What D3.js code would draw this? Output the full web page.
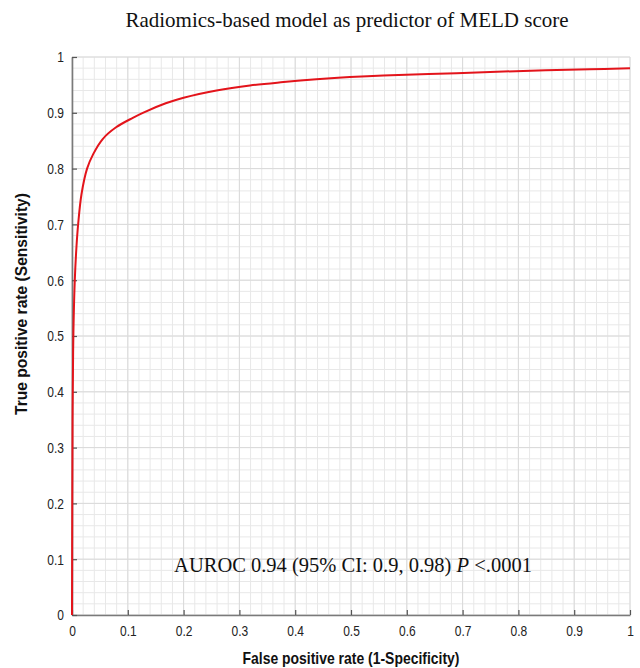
<!DOCTYPE html>
<html>
<head>
<meta charset="utf-8">
<script src="https://cdn.jsdelivr.net/npm/d3@7"></script>
<style>
  body { margin: 0; background: #fff; }
  .tick text { font-family: "Liberation Sans", Arial, sans-serif; font-size: 15px; fill: #222; }
  .axlabel { font-family: "Liberation Sans", Arial, sans-serif; font-weight: bold; font-size: 17px; fill: #111; }
</style>
</head>
<body>
<div id="chart"></div>
<script>
// ROC curve points: [false positive rate, true positive rate]
var fpr = [0, 0.0005, 0.001, 0.002, 0.003, 0.005, 0.008, 0.011, 0.017, 0.027, 0.038, 0.055, 0.079, 0.109, 0.127, 0.168, 0.2, 0.259, 0.319, 0.379, 0.438, 0.498, 0.558, 0.689, 0.809, 0.928, 1];
var tpr = [0, 0.2, 0.35, 0.47, 0.53, 0.6, 0.66, 0.7, 0.754, 0.8, 0.826, 0.853, 0.874, 0.891, 0.9, 0.917, 0.927, 0.94, 0.949, 0.955, 0.96, 0.964, 0.967, 0.971, 0.975, 0.978, 0.98];
var majorTicks = [0, 0.1, 0.2, 0.3, 0.4, 0.5, 0.6, 0.7, 0.8, 0.9, 1];
var minorTicks = d3.range(0, 51).map(function(i){ return i / 50; });

// squeeze a text horizontally to look like a narrow face
function narrow(sel, k){
	sel.each(function(){
		var len = this.getComputedTextLength();
		d3.select(this).attr("textLength", len * k).attr("lengthAdjust", "spacingAndGlyphs");
	});
}

function init(){
	var w = 640;
	var h = 668;
	var left = 72, right = 630, top = 57, bottom = 615;

	var xScale = d3.scaleLinear().domain([0, 1]).range([left, right]);
	var yScale = d3.scaleLinear().domain([0, 1]).range([bottom, top]);

	var svg = d3.select("#chart")
				.append("svg")
				.attr("width", w)
				.attr("height", h);

	// grid, minor first then major
	var grid = svg.append("g");
	grid.selectAll("line.vminor").data(minorTicks).enter().append("line")
		.attr("x1", function(d){ return xScale(d); })
		.attr("x2", function(d){ return xScale(d); })
		.attr("y1", top).attr("y2", bottom)
		.attr("stroke", "#e8e8e8").attr("stroke-width", 1);
	grid.selectAll("line.hminor").data(minorTicks).enter().append("line")
		.attr("y1", function(d){ return yScale(d); })
		.attr("y2", function(d){ return yScale(d); })
		.attr("x1", left).attr("x2", right)
		.attr("stroke", "#e8e8e8").attr("stroke-width", 1);
	grid.selectAll("line.vmajor").data(majorTicks).enter().append("line")
		.attr("x1", function(d){ return xScale(d); })
		.attr("x2", function(d){ return xScale(d); })
		.attr("y1", top).attr("y2", bottom)
		.attr("stroke", "#dadada").attr("stroke-width", 1);
	grid.selectAll("line.hmajor").data(majorTicks).enter().append("line")
		.attr("y1", function(d){ return yScale(d); })
		.attr("y2", function(d){ return yScale(d); })
		.attr("x1", left).attr("x2", right)
		.attr("stroke", "#dadada").attr("stroke-width", 1);

	// axes with ticks pointing inward
	var xAxis = d3.axisBottom(xScale)
				.tickValues(majorTicks)
				.tickFormat(d3.format("~g"))
				.tickSizeInner(-5).tickSizeOuter(0).tickPadding(10);
	var yAxis = d3.axisLeft(yScale)
				.tickValues(majorTicks)
				.tickFormat(d3.format("~g"))
				.tickSizeInner(-5).tickSizeOuter(0).tickPadding(8);

	var gx = svg.append("g").attr("transform", "translate(0," + bottom + ")").call(xAxis);
	var gy = svg.append("g").attr("transform", "translate(" + left + ",0)").call(yAxis);
	[gx, gy].forEach(function(g){
		g.attr("font-family", null).attr("font-size", null);
		g.select(".domain").attr("stroke", "#7a7a7a").attr("stroke-width", 1.6);
		g.selectAll(".tick line").attr("stroke", "#555").attr("stroke-width", 1.2);
		narrow(g.selectAll(".tick text"), 0.8);
	});

	// ROC curve
	var points = fpr.map(function(d, i){ return [d, tpr[i]]; });
	var line = d3.line()
				.x(function(d){ return xScale(d[0]); })
				.y(function(d){ return yScale(d[1]); })
				.curve(d3.curveCatmullRom.alpha(0.5));
	svg.append("path")
		.datum(points)
		.attr("d", line)
		.attr("fill", "none")
		.attr("stroke", "#e3141b")
		.attr("stroke-width", 2);

	// title
	svg.append("text")
		.attr("x", 347).attr("y", 27)
		.attr("text-anchor", "middle")
		.attr("font-family", "'Liberation Serif', 'Times New Roman', serif")
		.attr("font-size", 21)
		.attr("fill", "#111")
		.text("Radiomics-based model as predictor of MELD score");

	// annotation
	var ann = svg.append("text")
		.attr("x", 353).attr("y", 572)
		.attr("text-anchor", "middle")
		.attr("font-family", "'Liberation Serif', 'Times New Roman', serif")
		.attr("font-size", 20.5)
		.attr("fill", "#111");
	ann.append("tspan").text("AUROC 0.94 (95% CI: 0.9, 0.98) ");
	ann.append("tspan").attr("font-style", "italic").text("P");
	ann.append("tspan").text(" <.0001");

	// axis labels
	svg.append("text")
		.attr("class", "axlabel")
		.attr("x", 351).attr("y", 664)
		.attr("text-anchor", "middle")
		.attr("textLength", 217).attr("lengthAdjust", "spacingAndGlyphs")
		.text("False positive rate (1-Specificity)");

	svg.append("text")
		.attr("class", "axlabel")
		.attr("transform", "translate(27,304) rotate(-90)")
		.attr("text-anchor", "middle")
		.attr("textLength", 222).attr("lengthAdjust", "spacingAndGlyphs")
		.text("True positive rate (Sensitivity)");
}

window.onload = init;
</script>
</body>
</html>
